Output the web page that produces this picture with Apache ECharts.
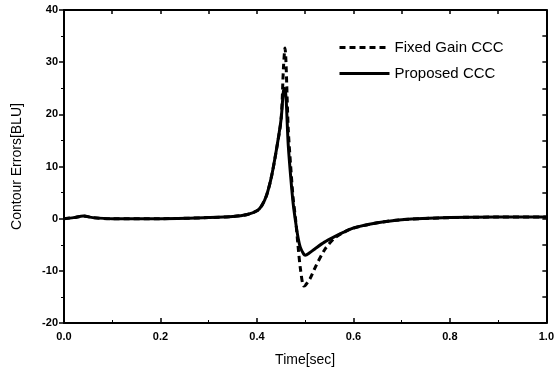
<!DOCTYPE html>
<html>
<head>
<meta charset="utf-8">
<script src="https://cdn.jsdelivr.net/npm/echarts@6/dist/echarts.min.js"></script>
<style>
  html, body { margin: 0; padding: 0; background: #fff; }
  #chart { width: 557px; height: 376px; }
</style>
</head>
<body>
<div id="chart"></div>
<script>
// time samples (sec)
var times = [0, 0.02, 0.04, 0.06, 0.1, 0.2, 0.3, 0.35, 0.38, 0.4, 0.41, 0.42, 0.43, 0.44, 0.45, 0.455, 0.458,
  0.465, 0.47, 0.475, 0.48, 0.485, 0.49, 0.497, 0.5, 0.51, 0.52, 0.54, 0.56, 0.58, 0.6, 0.65, 0.7, 0.8, 0.9, 1.0]
// contour errors [BLU]
var fixedGain = [0, 0.2, 0.5, 0.2, 0, 0, 0.2, 0.4, 0.8, 1.5, 2.5, 4.5, 8, 13, 19, 29, 32.7,
  17, 10, 4, 0, -5, -9.5, -12.9, -12.8, -11.5, -9.5, -6, -3.8, -2.6, -1.8, -0.8, -0.2, 0.2, 0.3, 0.3]
var proposed = [0, 0.2, 0.5, 0.2, 0, 0, 0.2, 0.4, 0.8, 1.5, 2.5, 4.5, 8, 13, 19, 24.5, 25,
  14, 8, 3, -0.5, -3.5, -5.5, -6.8, -7, -6.5, -5.8, -4.5, -3.5, -2.6, -1.8, -0.8, -0.2, 0.2, 0.3, 0.3]
var seriesNames = ['Fixed Gain CCC', 'Proposed CCC']

function pairs(ys) {
  return times.map(function (t, i) { return [t, ys[i]] })
}

var myChart = echarts.init(document.getElementById('chart'))
var font = 'Liberation Sans, Arial'
var labelStyle = { color: '#000', fontSize: 11, fontWeight: 'bold', fontFamily: font }
var axisLineStyle = { onZero: false, lineStyle: { color: '#000', width: 2 } }

var option = {
  animation: false,
  grid: { left: 64, right: 10, top: 10, bottom: 53 },
  legend: {
    orient: 'vertical',
    left: 333,
    top: 35,
    itemWidth: 50,
    itemHeight: 10,
    itemGap: 11,
    itemStyle: { opacity: 0 },
    lineStyle: { width: 3 },
    textStyle: { color: '#000', fontSize: 15, fontFamily: font },
    data: seriesNames
  },
  xAxis: [
    {
      type: 'value', min: 0, max: 1, interval: 0.2,
      name: 'Time[sec]', nameLocation: 'middle', nameGap: 30,
      nameTextStyle: { color: '#000', fontSize: 14, fontFamily: font },
      axisLine: axisLineStyle,
      axisTick: { inside: true, length: 5, lineStyle: { color: '#000', width: 1.5 } },
      minorTick: { show: true, splitNumber: 2, length: 3, lineStyle: { color: '#000' } },
      axisLabel: Object.assign({ margin: 8, formatter: function (v) { return v.toFixed(1) } }, labelStyle),
      splitLine: { show: false }
    },
    {
      type: 'value', min: 0, max: 1, interval: 0.1, position: 'top',
      axisLine: axisLineStyle,
      axisTick: { inside: true, length: 4, lineStyle: { color: '#000', width: 1.5 } },
      axisLabel: { show: false },
      splitLine: { show: false }
    }
  ],
  yAxis: [
    {
      type: 'value', min: -20, max: 40, interval: 10,
      name: 'Contour Errors[BLU]', nameLocation: 'middle', nameGap: 40,
      nameTextStyle: { color: '#000', fontSize: 14, fontFamily: font },
      axisLine: axisLineStyle,
      axisTick: { length: 5, lineStyle: { color: '#000', width: 1.5 } },
      minorTick: { show: true, splitNumber: 2, length: 3, lineStyle: { color: '#000' } },
      axisLabel: Object.assign({ margin: 6 }, labelStyle),
      splitLine: { show: false }
    },
    {
      type: 'value', min: -20, max: 40, interval: 5, position: 'right',
      axisLine: axisLineStyle,
      axisTick: { inside: true, length: 4, lineStyle: { color: '#000', width: 1.5 } },
      axisLabel: { show: false },
      splitLine: { show: false }
    }
  ],
  series: [
    {
      name: seriesNames[0], type: 'line', data: pairs(fixedGain),
      symbol: 'none', smooth: 0.3, z: 3,
      itemStyle: { color: '#000' },
      lineStyle: { color: '#000', width: 3, type: [6, 4] }
    },
    {
      name: seriesNames[1], type: 'line', data: pairs(proposed),
      symbol: 'none', smooth: 0.3, z: 2,
      itemStyle: { color: '#000' },
      lineStyle: { color: '#000', width: 3 }
    }
  ]
}
myChart.setOption(option)
</script>
</body>
</html>
